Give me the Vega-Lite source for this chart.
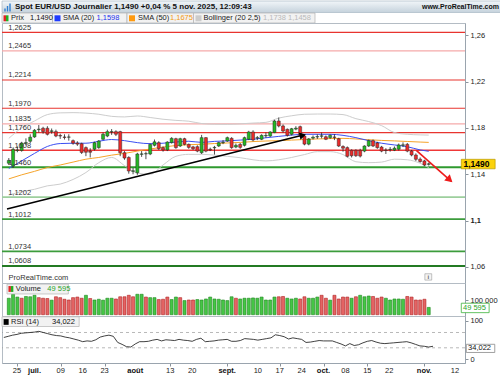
{
"$schema":"https://vega.github.io/schema/vega-lite/v6.json",
"padding":0,
"spacing":0,
"bounds":"flush",
"background":"white",
"config":{
 "locale":{"number":{"decimal":",","thousands":" ","grouping":[3],"currency":[""," €"]}},
 "font":"Liberation Sans",
 "view":{"stroke":"#b4bcc4","strokeWidth":1},
 "axis":{"labelFont":"Liberation Sans","labelFontSize":7.5,"labelColor":"#222","tickColor":"#8a939c","domainColor":"#9aa4ae","tickSize":3,"grid":false,"title":null,"labelPadding":2,"labelOverlap":false}
},
"resolve":{"scale":{"x":"independent","y":"independent"}},
"datasets":{
"c":[
{"d":-3,"o":1.1495,"h":1.154,"l":1.148,"c":1.152,"v":112000,"vc":"g","r":57},
{"d":-2,"o":1.147,"h":1.1625,"l":1.1455,"c":1.1615,"v":139000,"vc":"g","r":60},
{"d":-1,"o":1.1605,"h":1.164,"l":1.159,"c":1.161,"v":120000,"vc":"g","r":63},
{"d":0,"o":1.1605,"h":1.168,"l":1.1595,"c":1.167,"v":112000,"vc":"r","r":65},
{"d":1,"o":1.1668,"h":1.171,"l":1.165,"c":1.1673,"v":124000,"vc":"g","r":68},
{"d":2,"o":1.1685,"h":1.1745,"l":1.167,"c":1.172,"v":122000,"vc":"g","r":69},
{"d":3,"o":1.1722,"h":1.179,"l":1.1715,"c":1.178,"v":132000,"vc":"g","r":70},
{"d":4,"o":1.1785,"h":1.1825,"l":1.176,"c":1.179,"v":116000,"vc":"r","r":71},
{"d":5,"o":1.1797,"h":1.181,"l":1.175,"c":1.1768,"v":112000,"vc":"r","r":73},
{"d":6,"o":1.1797,"h":1.1815,"l":1.1735,"c":1.1745,"v":110000,"vc":"r","r":70},
{"d":7,"o":1.177,"h":1.1795,"l":1.175,"c":1.1775,"v":99000,"vc":"g","r":67},
{"d":8,"o":1.1768,"h":1.1785,"l":1.172,"c":1.173,"v":122000,"vc":"r","r":64},
{"d":9,"o":1.1735,"h":1.175,"l":1.1705,"c":1.173,"v":116000,"vc":"r","r":62},
{"d":10,"o":1.1722,"h":1.1745,"l":1.17,"c":1.1718,"v":105000,"vc":"r","r":61},
{"d":11,"o":1.172,"h":1.1745,"l":1.169,"c":1.1722,"v":100000,"vc":"r","r":58},
{"d":12,"o":1.169,"h":1.17,"l":1.1655,"c":1.1668,"v":116000,"vc":"r","r":56},
{"d":13,"o":1.167,"h":1.1685,"l":1.1645,"c":1.166,"v":120000,"vc":"r","r":53},
{"d":14,"o":1.1664,"h":1.1672,"l":1.1575,"c":1.1588,"v":112000,"vc":"r","r":50},
{"d":15,"o":1.163,"h":1.164,"l":1.1556,"c":1.159,"v":132000,"vc":"g","r":46},
{"d":16,"o":1.16,"h":1.1625,"l":1.1545,"c":1.159,"v":110000,"vc":"r","r":48},
{"d":17,"o":1.1616,"h":1.168,"l":1.1605,"c":1.1673,"v":100000,"vc":"g","r":47},
{"d":18,"o":1.163,"h":1.1695,"l":1.162,"c":1.1687,"v":105000,"vc":"g","r":51},
{"d":19,"o":1.1702,"h":1.176,"l":1.1695,"c":1.1745,"v":99000,"vc":"g","r":58},
{"d":20,"o":1.173,"h":1.1785,"l":1.172,"c":1.1768,"v":112000,"vc":"g","r":61},
{"d":21,"o":1.1765,"h":1.179,"l":1.174,"c":1.1768,"v":112000,"vc":"g","r":63},
{"d":22,"o":1.1768,"h":1.178,"l":1.173,"c":1.1745,"v":107000,"vc":"r","r":60},
{"d":23,"o":1.1768,"h":1.1775,"l":1.1556,"c":1.1586,"v":122000,"vc":"r","r":44},
{"d":24,"o":1.1586,"h":1.16,"l":1.1525,"c":1.154,"v":122000,"vc":"r","r":39},
{"d":25,"o":1.1545,"h":1.1555,"l":1.1405,"c":1.1428,"v":132000,"vc":"r","r":33},
{"d":26,"o":1.1425,"h":1.1455,"l":1.14,"c":1.143,"v":122000,"vc":"r","r":32},
{"d":27,"o":1.1413,"h":1.1585,"l":1.1395,"c":1.1575,"v":139000,"vc":"g","r":40},
{"d":28,"o":1.1572,"h":1.16,"l":1.155,"c":1.1576,"v":139000,"vc":"g","r":46},
{"d":29,"o":1.1576,"h":1.1595,"l":1.153,"c":1.1578,"v":120000,"vc":"r","r":46},
{"d":30,"o":1.1575,"h":1.1665,"l":1.1565,"c":1.1658,"v":116000,"vc":"g","r":47},
{"d":31,"o":1.165,"h":1.17,"l":1.164,"c":1.168,"v":116000,"vc":"g","r":50},
{"d":32,"o":1.1673,"h":1.1685,"l":1.161,"c":1.1621,"v":103000,"vc":"r","r":52},
{"d":33,"o":1.163,"h":1.164,"l":1.1595,"c":1.161,"v":105000,"vc":"r","r":48},
{"d":34,"o":1.161,"h":1.1685,"l":1.16,"c":1.1678,"v":120000,"vc":"r","r":51},
{"d":35,"o":1.1673,"h":1.172,"l":1.1665,"c":1.171,"v":103000,"vc":"g","r":50},
{"d":36,"o":1.1707,"h":1.1715,"l":1.162,"c":1.163,"v":120000,"vc":"g","r":49},
{"d":37,"o":1.1644,"h":1.1715,"l":1.1635,"c":1.1707,"v":116000,"vc":"r","r":52},
{"d":38,"o":1.1707,"h":1.1715,"l":1.165,"c":1.1658,"v":96000,"vc":"g","r":50},
{"d":39,"o":1.1658,"h":1.1665,"l":1.162,"c":1.1632,"v":100000,"vc":"r","r":49},
{"d":40,"o":1.1636,"h":1.1645,"l":1.161,"c":1.162,"v":100000,"vc":"r","r":47},
{"d":41,"o":1.1638,"h":1.165,"l":1.159,"c":1.16,"v":103000,"vc":"g","r":52},
{"d":42,"o":1.1586,"h":1.174,"l":1.1575,"c":1.1716,"v":100000,"vc":"g","r":55},
{"d":43,"o":1.1716,"h":1.172,"l":1.159,"c":1.16,"v":107000,"vc":"g","r":46},
{"d":44,"o":1.1616,"h":1.163,"l":1.16,"c":1.161,"v":120000,"vc":"g","r":47},
{"d":45,"o":1.1628,"h":1.1645,"l":1.157,"c":1.1632,"v":107000,"vc":"g","r":48},
{"d":46,"o":1.1644,"h":1.168,"l":1.1635,"c":1.1673,"v":105000,"vc":"g","r":50},
{"d":47,"o":1.1672,"h":1.1695,"l":1.166,"c":1.1676,"v":100000,"vc":"g","r":51},
{"d":48,"o":1.1687,"h":1.1725,"l":1.168,"c":1.1716,"v":96000,"vc":"g","r":52},
{"d":49,"o":1.171,"h":1.172,"l":1.162,"c":1.163,"v":122000,"vc":"g","r":47},
{"d":50,"o":1.1635,"h":1.1665,"l":1.1625,"c":1.165,"v":112000,"vc":"r","r":47},
{"d":51,"o":1.1658,"h":1.167,"l":1.162,"c":1.1632,"v":107000,"vc":"g","r":49},
{"d":52,"o":1.165,"h":1.1725,"l":1.164,"c":1.1716,"v":112000,"vc":"g","r":54},
{"d":53,"o":1.1702,"h":1.1775,"l":1.1695,"c":1.1765,"v":112000,"vc":"g","r":53},
{"d":54,"o":1.1765,"h":1.178,"l":1.1685,"c":1.1696,"v":114000,"vc":"g","r":52},
{"d":55,"o":1.1712,"h":1.173,"l":1.1695,"c":1.1716,"v":112000,"vc":"g","r":50},
{"d":56,"o":1.1702,"h":1.1745,"l":1.1695,"c":1.1736,"v":120000,"vc":"g","r":52},
{"d":57,"o":1.1731,"h":1.176,"l":1.1715,"c":1.1735,"v":100000,"vc":"g","r":54},
{"d":58,"o":1.173,"h":1.1772,"l":1.1722,"c":1.1765,"v":100000,"vc":"g","r":56},
{"d":59,"o":1.176,"h":1.187,"l":1.1755,"c":1.186,"v":120000,"vc":"g","r":64},
{"d":60,"o":1.186,"h":1.189,"l":1.1805,"c":1.1817,"v":122000,"vc":"r","r":62},
{"d":61,"o":1.1817,"h":1.183,"l":1.176,"c":1.1773,"v":124000,"vc":"r","r":59},
{"d":62,"o":1.1788,"h":1.1795,"l":1.1725,"c":1.1736,"v":112000,"vc":"g","r":53},
{"d":63,"o":1.1745,"h":1.18,"l":1.1735,"c":1.1793,"v":107000,"vc":"g","r":56},
{"d":64,"o":1.179,"h":1.1815,"l":1.178,"c":1.1798,"v":112000,"vc":"g","r":54},
{"d":65,"o":1.1811,"h":1.182,"l":1.1725,"c":1.1736,"v":107000,"vc":"r","r":52},
{"d":66,"o":1.173,"h":1.174,"l":1.165,"c":1.166,"v":122000,"vc":"r","r":44},
{"d":67,"o":1.166,"h":1.1712,"l":1.165,"c":1.1705,"v":112000,"vc":"g","r":45},
{"d":68,"o":1.1712,"h":1.1735,"l":1.17,"c":1.172,"v":112000,"vc":"g","r":47},
{"d":69,"o":1.1722,"h":1.1745,"l":1.1705,"c":1.1725,"v":120000,"vc":"g","r":49},
{"d":70,"o":1.1728,"h":1.176,"l":1.171,"c":1.1732,"v":132000,"vc":"r","r":48},
{"d":71,"o":1.1724,"h":1.1735,"l":1.1695,"c":1.1702,"v":112000,"vc":"r","r":48},
{"d":72,"o":1.1716,"h":1.1745,"l":1.1705,"c":1.1736,"v":99000,"vc":"g","r":48},
{"d":73,"o":1.1722,"h":1.1745,"l":1.1695,"c":1.1718,"v":132000,"vc":"r","r":44},
{"d":74,"o":1.1707,"h":1.1715,"l":1.1635,"c":1.1644,"v":107000,"vc":"r","r":40},
{"d":75,"o":1.164,"h":1.165,"l":1.1595,"c":1.1625,"v":120000,"vc":"r","r":35},
{"d":76,"o":1.163,"h":1.164,"l":1.1545,"c":1.1555,"v":120000,"vc":"r","r":41},
{"d":77,"o":1.1607,"h":1.1615,"l":1.1545,"c":1.156,"v":112000,"vc":"g","r":36},
{"d":78,"o":1.1607,"h":1.1615,"l":1.155,"c":1.156,"v":122000,"vc":"r","r":38},
{"d":79,"o":1.1607,"h":1.162,"l":1.1545,"c":1.1557,"v":132000,"vc":"g","r":43},
{"d":80,"o":1.16,"h":1.165,"l":1.159,"c":1.1644,"v":122000,"vc":"g","r":47},
{"d":81,"o":1.1644,"h":1.17,"l":1.1635,"c":1.169,"v":127000,"vc":"g","r":49},
{"d":82,"o":1.169,"h":1.17,"l":1.1635,"c":1.1644,"v":124000,"vc":"r","r":45},
{"d":83,"o":1.167,"h":1.168,"l":1.162,"c":1.163,"v":112000,"vc":"r","r":42},
{"d":84,"o":1.1635,"h":1.1645,"l":1.159,"c":1.16,"v":120000,"vc":"r","r":41},
{"d":85,"o":1.161,"h":1.1625,"l":1.1575,"c":1.1605,"v":112000,"vc":"g","r":42},
{"d":86,"o":1.1612,"h":1.1635,"l":1.1595,"c":1.1615,"v":100000,"vc":"g","r":43},
{"d":87,"o":1.1608,"h":1.164,"l":1.16,"c":1.1625,"v":107000,"vc":"g","r":44},
{"d":88,"o":1.1616,"h":1.1665,"l":1.1605,"c":1.1653,"v":107000,"vc":"g","r":45},
{"d":89,"o":1.165,"h":1.1675,"l":1.1635,"c":1.1654,"v":105000,"vc":"g","r":46},
{"d":90,"o":1.1658,"h":1.167,"l":1.159,"c":1.16,"v":124000,"vc":"r","r":43},
{"d":91,"o":1.16,"h":1.161,"l":1.1555,"c":1.1566,"v":120000,"vc":"r","r":39},
{"d":92,"o":1.1566,"h":1.158,"l":1.1515,"c":1.1529,"v":100000,"vc":"r","r":35},
{"d":93,"o":1.153,"h":1.1545,"l":1.15,"c":1.151,"v":100000,"vc":"r","r":34},
{"d":94,"o":1.1515,"h":1.1525,"l":1.147,"c":1.148,"v":105000,"vc":"r","r":32},
{"d":95,"o":1.1486,"h":1.15,"l":1.1475,"c":1.149,"v":49595,"vc":"g","r":34.022}
],
"ind":[
{"d":-3,"s20":1.145,"s50":1.136,"bu":1.171,"bl":1.122},
{"d":0,"s20":1.1515,"s50":1.1395,"bu":1.18,"bl":1.125},
{"d":3,"s20":1.158,"s50":1.1425,"bu":1.186,"bl":1.127},
{"d":6,"s20":1.164,"s50":1.1458,"bu":1.1915,"bl":1.13},
{"d":9,"s20":1.1665,"s50":1.148,"bu":1.193,"bl":1.1315},
{"d":12,"s20":1.1668,"s50":1.1505,"bu":1.1932,"bl":1.1355},
{"d":15,"s20":1.1668,"s50":1.153,"bu":1.1928,"bl":1.1415},
{"d":18,"s20":1.1685,"s50":1.1545,"bu":1.1918,"bl":1.15},
{"d":21,"s20":1.17,"s50":1.1565,"bu":1.19,"bl":1.1545},
{"d":24,"s20":1.169,"s50":1.158,"bu":1.1895,"bl":1.1475},
{"d":27,"s20":1.1673,"s50":1.16,"bu":1.1903,"bl":1.141},
{"d":30,"s20":1.1664,"s50":1.1618,"bu":1.189,"bl":1.14},
{"d":33,"s20":1.1668,"s50":1.1635,"bu":1.1875,"bl":1.148},
{"d":36,"s20":1.1678,"s50":1.1648,"bu":1.1865,"bl":1.1555},
{"d":39,"s20":1.1685,"s50":1.1655,"bu":1.1858,"bl":1.1572},
{"d":42,"s20":1.1675,"s50":1.1659,"bu":1.1838,"bl":1.1572},
{"d":45,"s20":1.1684,"s50":1.1665,"bu":1.1832,"bl":1.1565},
{"d":48,"s20":1.1688,"s50":1.167,"bu":1.1831,"bl":1.1555},
{"d":51,"s20":1.1695,"s50":1.1675,"bu":1.1835,"bl":1.1543},
{"d":54,"s20":1.1702,"s50":1.1682,"bu":1.1842,"bl":1.1525},
{"d":57,"s20":1.1715,"s50":1.1687,"bu":1.1848,"bl":1.1515},
{"d":60,"s20":1.1727,"s50":1.169,"bu":1.1885,"bl":1.1525},
{"d":63,"s20":1.1738,"s50":1.1695,"bu":1.1905,"bl":1.1545},
{"d":66,"s20":1.1745,"s50":1.17,"bu":1.1918,"bl":1.157},
{"d":69,"s20":1.1745,"s50":1.1705,"bu":1.192,"bl":1.1595},
{"d":72,"s20":1.1745,"s50":1.1708,"bu":1.192,"bl":1.1595},
{"d":75,"s20":1.1736,"s50":1.171,"bu":1.1915,"bl":1.157},
{"d":78,"s20":1.1716,"s50":1.1705,"bu":1.188,"bl":1.1508},
{"d":81,"s20":1.169,"s50":1.1698,"bu":1.1855,"bl":1.15},
{"d":84,"s20":1.1668,"s50":1.1692,"bu":1.182,"bl":1.1505},
{"d":87,"s20":1.1653,"s50":1.1688,"bu":1.176,"bl":1.153},
{"d":90,"s20":1.1638,"s50":1.1683,"bu":1.1745,"bl":1.1525},
{"d":93,"s20":1.161,"s50":1.1678,"bu":1.174,"bl":1.1495},
{"d":95,"s20":1.1598,"s50":1.1675,"bu":1.1738,"bl":1.1458}
],
"lv":[
{"p":1.2625,"k":"R"},{"p":1.2465,"k":"RL"},{"p":1.2214,"k":"R"},{"p":1.197,"k":"R"},{"p":1.1835,"k":"RL"},{"p":1.176,"k":"R"},{"p":1.1608,"k":"RT"},
{"p":1.146,"k":"ST"},{"p":1.1202,"k":"SL"},{"p":1.1012,"k":"S"},{"p":1.0734,"k":"S"},{"p":1.0608,"k":"SD"}
],
"tr":[
{"d":-3.42,"p":1.11,"k":"up"},{"d":65.5,"p":1.1736,"k":"up"},
{"d":92.1,"p":1.1607,"k":"dn"},{"d":100.2,"p":1.134,"k":"dn"}
],
"xt":[
{"d":0,"t":"25","m":0},{"d":4,"t":"juil.","m":1},{"d":10,"t":"09","m":0},{"d":15,"t":"16","m":0},{"d":20,"t":"23","m":0},
{"d":27,"t":"août","m":1},{"d":35,"t":"13","m":0},{"d":40,"t":"20","m":0},{"d":48,"t":"sept.","m":1},{"d":55,"t":"10","m":0},
{"d":60,"t":"17","m":0},{"d":65,"t":"24","m":0},{"d":70,"t":"oct.","m":1},{"d":75,"t":"08","m":0},{"d":80,"t":"15","m":0},
{"d":85,"t":"22","m":0},{"d":93,"t":"nov.","m":1},{"d":100,"t":"12","m":0}
]
},
"vconcat":[
{
 "width":500,"height":22,"view":{"stroke":null},"data":{"values":[{}]},
 "layer":[
  {"mark":{"type":"rect","fill":{"gradient":"linear","x1":0,"y1":0,"x2":0,"y2":1,"stops":[{"offset":0,"color":"#f2f6f9"},{"offset":1,"color":"#c5d2dc"}]},"stroke":"#9fb0bd","strokeWidth":0.6},
   "encoding":{"x":{"datum":0,"type":"quantitative","scale":{"domain":[0,500],"nice":false,"zero":false},"axis":null},"x2":{"datum":500},"y":{"datum":0,"type":"quantitative","scale":{"domain":[0,22],"reverse":true,"nice":false,"zero":false},"axis":null},"y2":{"datum":11.5}}},
  {"mark":{"type":"rule","color":"#2f7fd0","strokeWidth":1.4},"encoding":{"x":{"datum":3,"type":"quantitative"},"y":{"datum":7.5,"type":"quantitative"},"y2":{"datum":10.5}}},
  {"mark":{"type":"rule","color":"#2f7fd0","strokeWidth":1.4},"encoding":{"x":{"datum":5.5,"type":"quantitative"},"y":{"datum":5,"type":"quantitative"},"y2":{"datum":10.5}}},
  {"mark":{"type":"rule","color":"#2f7fd0","strokeWidth":1.4},"encoding":{"x":{"datum":8,"type":"quantitative"},"y":{"datum":2.5,"type":"quantitative"},"y2":{"datum":10.5}}},
  {"mark":{"type":"text","align":"left","baseline":"middle","fontWeight":"bold","fontSize":8,"color":"#111","text":"Spot EUR/USD Journalier 1,1490 +0,04 % 5 nov. 2025, 12:09:43"},
   "encoding":{"x":{"datum":13,"type":"quantitative"},"y":{"datum":6.2,"type":"quantitative"}}},
  {"mark":{"type":"text","align":"right","baseline":"middle","fontWeight":"bold","fontSize":7,"color":"#111","text":"www.ProRealTime.com"},
   "encoding":{"x":{"datum":497,"type":"quantitative"},"y":{"datum":6.2,"type":"quantitative"}}},
  {"mark":{"type":"rect","fill":"#f2f2f2","stroke":"#b3b3b3","strokeWidth":0.7},"encoding":{"x":{"datum":0,"type":"quantitative"},"x2":{"datum":50.5},"y":{"datum":12,"type":"quantitative"},"y2":{"datum":22}}},
  {"mark":{"type":"rect","fill":"#f2f2f2","stroke":"#b3b3b3","strokeWidth":0.7},"encoding":{"x":{"datum":50.5,"type":"quantitative"},"x2":{"datum":125},"y":{"datum":12,"type":"quantitative"},"y2":{"datum":22}}},
  {"mark":{"type":"rect","fill":"#f2f2f2","stroke":"#b3b3b3","strokeWidth":0.7},"encoding":{"x":{"datum":125,"type":"quantitative"},"x2":{"datum":191.5},"y":{"datum":12,"type":"quantitative"},"y2":{"datum":22}}},
  {"mark":{"type":"rect","fill":"#f2f2f2","stroke":"#b3b3b3","strokeWidth":0.7},"encoding":{"x":{"datum":191.5,"type":"quantitative"},"x2":{"datum":313},"y":{"datum":12,"type":"quantitative"},"y2":{"datum":22}}},
  {"mark":{"type":"rect","fill":"#e02424"},"encoding":{"x":{"datum":1.5,"type":"quantitative"},"x2":{"datum":4},"y":{"datum":14.3,"type":"quantitative"},"y2":{"datum":20.3}}},
  {"mark":{"type":"rect","fill":"#22b022"},"encoding":{"x":{"datum":4,"type":"quantitative"},"x2":{"datum":6.5},"y":{"datum":14.3,"type":"quantitative"},"y2":{"datum":20.3}}},
  {"mark":{"type":"rect","fill":"#1f3cff"},"encoding":{"x":{"datum":52.5,"type":"quantitative"},"x2":{"datum":58.5},"y":{"datum":14.3,"type":"quantitative"},"y2":{"datum":20.3}}},
  {"mark":{"type":"rect","fill":"#ff9a10"},"encoding":{"x":{"datum":127,"type":"quantitative"},"x2":{"datum":133},"y":{"datum":14.3,"type":"quantitative"},"y2":{"datum":20.3}}},
  {"mark":{"type":"rect","fill":"#cccccc"},"encoding":{"x":{"datum":193.5,"type":"quantitative"},"x2":{"datum":199.5},"y":{"datum":14.3,"type":"quantitative"},"y2":{"datum":20.3}}},
  {"mark":{"type":"text","align":"left","baseline":"middle","fontSize":7.5,"color":"#222","text":"Prix"},"encoding":{"x":{"datum":9,"type":"quantitative"},"y":{"datum":17.3,"type":"quantitative"}}},
  {"mark":{"type":"text","align":"left","baseline":"middle","fontSize":7.5,"color":"#111","text":"1,1490"},"encoding":{"x":{"datum":28,"type":"quantitative"},"y":{"datum":17.3,"type":"quantitative"}}},
  {"mark":{"type":"text","align":"left","baseline":"middle","fontSize":7.5,"color":"#222","text":"SMA (20)"},"encoding":{"x":{"datum":61,"type":"quantitative"},"y":{"datum":17.3,"type":"quantitative"}}},
  {"mark":{"type":"text","align":"left","baseline":"middle","fontSize":7.5,"color":"#2233ee","text":"1,1598"},"encoding":{"x":{"datum":94.5,"type":"quantitative"},"y":{"datum":17.3,"type":"quantitative"}}},
  {"mark":{"type":"text","align":"left","baseline":"middle","fontSize":7.5,"color":"#222","text":"SMA (50)"},"encoding":{"x":{"datum":136,"type":"quantitative"},"y":{"datum":17.3,"type":"quantitative"}}},
  {"mark":{"type":"text","align":"left","baseline":"middle","fontSize":7.5,"color":"#f39a14","text":"1,1675"},"encoding":{"x":{"datum":168,"type":"quantitative"},"y":{"datum":17.3,"type":"quantitative"}}},
  {"mark":{"type":"text","align":"left","baseline":"middle","fontSize":7.5,"color":"#222","text":"Bollinger (20 2,5)"},"encoding":{"x":{"datum":201.5,"type":"quantitative"},"y":{"datum":17.3,"type":"quantitative"}}},
  {"mark":{"type":"text","align":"left","baseline":"middle","fontSize":7.5,"color":"#b9b9b9","text":"1,1738 1,1458"},"encoding":{"x":{"datum":261,"type":"quantitative"},"y":{"datum":17.3,"type":"quantitative"}}}
 ]
},
{
 "width":463,"height":260,"data":{"values":[{}]},
 "layer":[
  {"data":{"name":"lv"},"mark":{"type":"rule"},
   "encoding":{
    "y":{"field":"p","type":"quantitative","scale":{"domain":[1.0461,1.2706],"nice":false,"zero":false},
     "axis":{"orient":"right","values":[1.06,1.08,1.1,1.12,1.14,1.16,1.18,1.2,1.22,1.24,1.26],"format":".2~f",
      "labelFontWeight":{"condition":{"test":"abs(datum.value-1.2)<0.001 || abs(datum.value-1.1)<0.001","value":"bold"},"value":"normal"}}},
    "color":{"field":"k","type":"nominal","scale":{"domain":["R","RL","RT","S","SL","ST","SD"],"range":["#e8342f","#f5aaaa","#ef3838","#3c9c3c","#9dcf9d","#2f9a2f","#237a23"]},"legend":null},
    "size":{"field":"k","type":"ordinal","scale":{"domain":["R","RL","RT","S","SL","ST","SD"],"range":[1.2,2.2,3.5,1.3,1.6,2.2,2.6]},"legend":null}}},
  {"data":{"name":"ind"},"mark":{"type":"line","color":"#cdcdcd","strokeWidth":1,"interpolate":"monotone"},
   "encoding":{"x":{"field":"d","type":"quantitative","scale":{"domain":[-3.42,102.3],"nice":false,"zero":false},"axis":null},"y":{"field":"bu","type":"quantitative"}}},
  {"data":{"name":"ind"},"mark":{"type":"line","color":"#cdcdcd","strokeWidth":1,"interpolate":"monotone"},
   "encoding":{"x":{"field":"d","type":"quantitative","axis":null},"y":{"field":"bl","type":"quantitative"}}},
  {"data":{"name":"ind"},"mark":{"type":"line","color":"#f6a42a","strokeWidth":1,"interpolate":"monotone"},
   "encoding":{"x":{"field":"d","type":"quantitative","axis":null},"y":{"field":"s50","type":"quantitative"}}},
  {"data":{"name":"ind"},"mark":{"type":"line","color":"#3b4ef2","strokeWidth":1,"interpolate":"monotone"},
   "encoding":{"x":{"field":"d","type":"quantitative","axis":null},"y":{"field":"s20","type":"quantitative"}}},
  {"data":{"name":"tr"},"transform":[{"filter":"datum.k == 'up'"}],"mark":{"type":"line","strokeWidth":1.6,"color":"#000000"},
   "encoding":{"x":{"field":"d","type":"quantitative","axis":null},"y":{"field":"p","type":"quantitative"}}},
  {"data":{"name":"tr"},"transform":[{"filter":"datum.k == 'dn'"}],"mark":{"type":"line","strokeWidth":1.6,"color":"#ee1c1c"},
   "encoding":{"x":{"field":"d","type":"quantitative","axis":null},"y":{"field":"p","type":"quantitative"}}},
  {"data":{"name":"c"},"mark":{"type":"rule","color":"#222","strokeWidth":0.8},
   "encoding":{"x":{"field":"d","type":"quantitative","axis":null},"y":{"field":"l","type":"quantitative"},"y2":{"field":"h"}}},
  {"data":{"name":"c"},"mark":{"type":"bar","width":3,"stroke":"#2a2a2a","strokeWidth":0.5},
   "encoding":{"x":{"field":"d","type":"quantitative","axis":null},"y":{"field":"o","type":"quantitative"},"y2":{"field":"c"},
    "fill":{"condition":{"test":"datum.c >= datum.o","value":"#22b822"},"value":"#ec2a2a"}}},
  {"mark":{"type":"point","shape":"triangle-right","filled":true,"size":55,"angle":346,"color":"#000","opacity":1},
   "encoding":{"x":{"datum":65.6,"type":"quantitative","axis":null},"y":{"datum":1.1736,"type":"quantitative"}}},
  {"mark":{"type":"point","shape":"triangle-right","filled":true,"size":70,"angle":42,"color":"#ee1c1c","opacity":1},
   "encoding":{"x":{"datum":99.9,"type":"quantitative","axis":null},"y":{"datum":1.1352,"type":"quantitative"}}},
  {"data":{"name":"lv"},"mark":{"type":"text","align":"left","baseline":"bottom","dy":-0.5,"fontSize":7.5,"color":"#333"},
   "encoding":{"x":{"datum":-3.15,"type":"quantitative","axis":null},"y":{"field":"p","type":"quantitative"},"text":{"field":"p","type":"quantitative","format":".4f"}}},
  {"mark":{"type":"text","align":"left","baseline":"middle","fontSize":7.5,"color":"#333","text":"ProRealTime.com"},
   "encoding":{"x":{"datum":-3.05,"type":"quantitative","axis":null},"y":{"datum":1.0503,"type":"quantitative"}}},
  {"mark":{"type":"rect","fill":"#f4f4f4","stroke":"#9a9a9a","strokeWidth":0.6},
   "encoding":{"x":{"datum":94.1,"type":"quantitative","axis":null},"x2":{"datum":95.7},"y":{"datum":1.0541,"type":"quantitative"},"y2":{"datum":1.0486}}},
  {"mark":{"type":"text","align":"center","baseline":"middle","fontSize":6,"fontWeight":"bold","color":"#666","text":"i"},
   "encoding":{"x":{"datum":94.9,"type":"quantitative","axis":null},"y":{"datum":1.0513,"type":"quantitative"}}},
  {"mark":{"type":"rect","fill":"#fbd20c","stroke":"#b89a00","strokeWidth":0.7},
   "encoding":{"x":{"datum":102.6,"type":"quantitative","axis":null},"x2":{"datum":110.5},"y":{"datum":1.1529,"type":"quantitative"},"y2":{"datum":1.1447}}},
  {"mark":{"type":"text","align":"left","baseline":"middle","fontSize":8.5,"fontWeight":"bold","color":"#000","text":"1,1490"},
   "encoding":{"x":{"datum":103.1,"type":"quantitative","axis":null},"y":{"datum":1.1487,"type":"quantitative"}}}
 ]
},
{
 "width":463,"height":33,"data":{"values":[{}]},
 "layer":[
  {"data":{"name":"c"},"mark":{"type":"bar","width":3,"strokeWidth":0.6},
   "encoding":{"x":{"field":"d","type":"quantitative","scale":{"domain":[-3.42,102.3],"nice":false,"zero":false},"axis":null},
    "y":{"field":"v","type":"quantitative","scale":{"domain":[-8843,215646],"nice":false,"zero":false},"axis":{"orient":"right","values":[100000],"labelExpr":"'100 000'"}},
    "y2":{"datum":0},
    "fill":{"condition":{"test":"datum.vc == 'g'","value":"#46c646"},"value":"#e46464"},
    "stroke":{"condition":{"test":"datum.vc == 'g'","value":"#1d861d"},"value":"#b02020"}}},
  {"mark":{"type":"rect","fill":"#f2f2f2","stroke":"#b3b3b3","strokeWidth":0.7},
   "encoding":{"x":{"datum":-3.42,"type":"quantitative","axis":null},"x2":{"datum":10.9},"y":{"datum":208000,"type":"quantitative"},"y2":{"datum":141000}}},
  {"mark":{"type":"rect","fill":"#e02424"},"encoding":{"x":{"datum":-3.08,"type":"quantitative","axis":null},"x2":{"datum":-2.51},"y":{"datum":195000,"type":"quantitative"},"y2":{"datum":155000}}},
  {"mark":{"type":"rect","fill":"#22b022"},"encoding":{"x":{"datum":-2.51,"type":"quantitative","axis":null},"x2":{"datum":-1.94},"y":{"datum":195000,"type":"quantitative"},"y2":{"datum":155000}}},
  {"mark":{"type":"text","align":"left","baseline":"middle","fontSize":7.5,"color":"#222","text":"Volume"},"encoding":{"x":{"datum":-1.35,"type":"quantitative","axis":null},"y":{"datum":175000,"type":"quantitative"}}},
  {"mark":{"type":"text","align":"left","baseline":"middle","fontSize":7.5,"color":"#28a428","text":"49 595"},"encoding":{"x":{"datum":6.0,"type":"quantitative","axis":null},"y":{"datum":175000,"type":"quantitative"}}},
  {"mark":{"type":"rect","fill":"#ffffff","stroke":"#3cb33c","strokeWidth":0.8},"encoding":{"x":{"datum":102.6,"type":"quantitative","axis":null},"x2":{"datum":109.1},"y":{"datum":78000,"type":"quantitative"},"y2":{"datum":14000}}},
  {"mark":{"type":"text","align":"left","baseline":"middle","fontSize":7.5,"color":"#28a428","text":"49 595"},"encoding":{"x":{"datum":103.0,"type":"quantitative","axis":null},"y":{"datum":45500,"type":"quantitative"}}}
 ]
},
{
 "width":463,"height":47,"data":{"values":[{}]},
 "layer":[
  {"data":{"values":[{"lvl":30},{"lvl":70}]},"mark":{"type":"rule","color":"#9a9a9a","strokeWidth":0.7,"strokeDash":[3,3]},
   "encoding":{"y":{"field":"lvl","type":"quantitative","scale":{"domain":[-9.66,113.05],"nice":false,"zero":false}}}},
  {"data":{"name":"c"},"mark":{"type":"line","color":"#111","strokeWidth":0.8},
   "encoding":{"x":{"field":"d","type":"quantitative","scale":{"domain":[-3.42,102.3],"nice":false,"zero":false},
     "axis":{"orient":"bottom","values":[0,4,10,15,20,27,35,40,48,55,60,65,70,75,80,85,93,100],"labels":false,"tickSize":3}},
    "y":{"field":"r","type":"quantitative","axis":{"orient":"right","values":[0,50,100]}}}},
  {"data":{"name":"xt"},"transform":[{"filter":"datum.m == 0"}],"mark":{"type":"text","align":"center","baseline":"top","dy":4,"fontSize":7.5,"color":"#222"},
   "encoding":{"x":{"field":"d","type":"quantitative"},"y":{"datum":-9.66,"type":"quantitative"},"text":{"field":"t"}}},
  {"data":{"name":"xt"},"transform":[{"filter":"datum.m == 1"}],"mark":{"type":"text","align":"center","baseline":"top","dy":4,"fontSize":7.5,"fontWeight":"bold","color":"#111"},
   "encoding":{"x":{"field":"d","type":"quantitative"},"y":{"datum":-9.66,"type":"quantitative"},"text":{"field":"t"}}},
  {"mark":{"type":"rect","fill":"#f2f2f2","stroke":"#b3b3b3","strokeWidth":0.7},
   "encoding":{"x":{"datum":-3.42,"type":"quantitative"},"x2":{"datum":14.2},"y":{"datum":111,"type":"quantitative"},"y2":{"datum":85.6}}},
  {"mark":{"type":"rect","fill":"#000000"},"encoding":{"x":{"datum":-3.05,"type":"quantitative"},"x2":{"datum":-1.9},"y":{"datum":105,"type":"quantitative"},"y2":{"datum":90}}},
  {"mark":{"type":"text","align":"left","baseline":"middle","fontSize":7.5,"color":"#222","text":"RSI (14)"},"encoding":{"x":{"datum":-1.35,"type":"quantitative"},"y":{"datum":98,"type":"quantitative"}}},
  {"mark":{"type":"text","align":"left","baseline":"middle","fontSize":7.5,"color":"#111","text":"34,022"},"encoding":{"x":{"datum":8.0,"type":"quantitative"},"y":{"datum":98,"type":"quantitative"}}},
  {"mark":{"type":"rect","fill":"#ffffff","stroke":"#8a8a8a","strokeWidth":0.8},"encoding":{"x":{"datum":102.6,"type":"quantitative"},"x2":{"datum":109.1},"y":{"datum":39.2,"type":"quantitative"},"y2":{"datum":17.8}}},
  {"mark":{"type":"text","align":"left","baseline":"middle","fontSize":7.5,"color":"#111","text":"34,022"},"encoding":{"x":{"datum":103.0,"type":"quantitative"},"y":{"datum":28.3,"type":"quantitative"}}}
 ]
}
]
}
